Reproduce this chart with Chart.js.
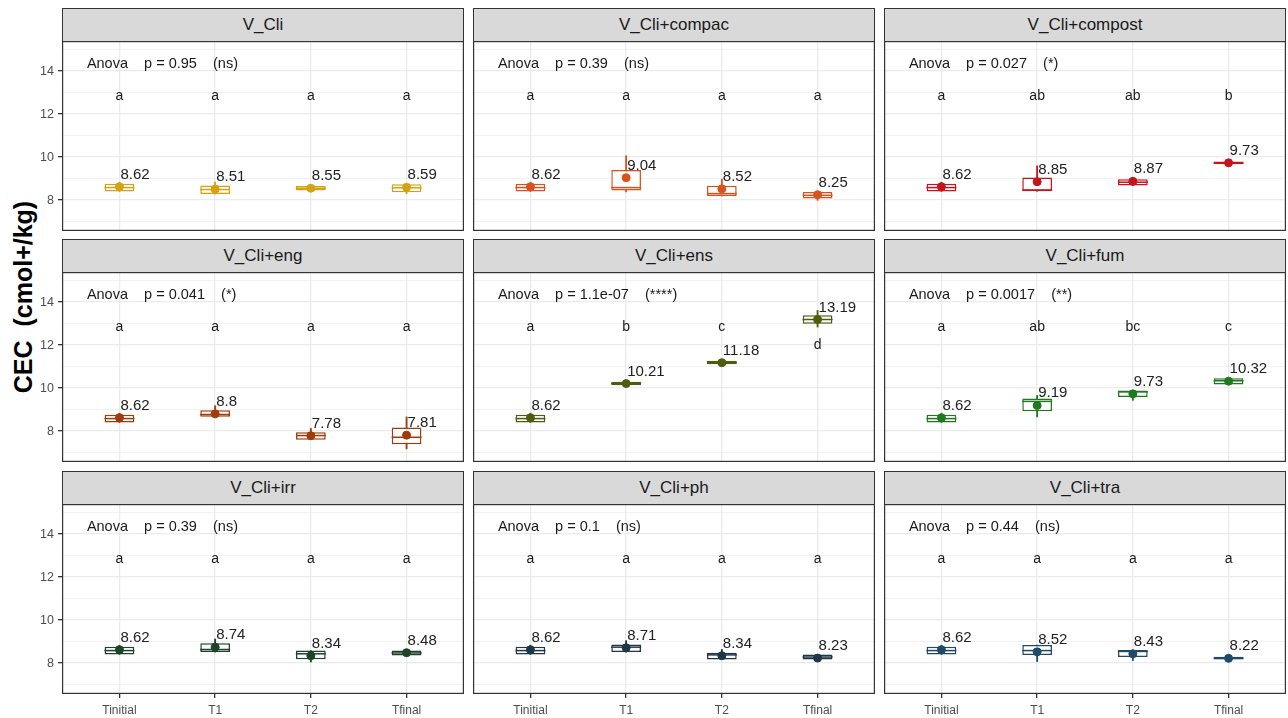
<!DOCTYPE html>
<html>
<head>
<meta charset="utf-8">
<title>CEC by treatment</title>
<script src="https://cdn.jsdelivr.net/npm/chart.js@4.4.1/dist/chart.umd.min.js"></script>
<style>
  body { margin: 0; background: #fff; font-family: "Liberation Sans", Arial, sans-serif; }
  #wrap { position: relative; width: 1288px; height: 718px; overflow: hidden; }
  .strip {
    position: absolute; box-sizing: border-box; background: #d9d9d9;
    border: 1px solid #333; color: #1a1a1a; font-size: 17px; text-align: center;
  }
  .cell { position: absolute; }
  #ytitle {
    position: absolute; left: 11px; top: 297px; transform-origin: 0 0;
    transform: rotate(-90deg) translate(-50%, 0);
    font-weight: bold; font-size: 25px; line-height: 25px; white-space: pre; color: #000;
  }
</style>
</head>
<body>
<div id="wrap">
  <div id="ytitle">CEC  (cmol+/kg)</div>
</div>
<script>
// sampling times and treatments (one facet each)
const groups = ['Tinitial', 'T1', 'T2', 'Tfinal'];
const treatments = ['V_Cli', 'V_Cli+compac', 'V_Cli+compost',
                    'V_Cli+eng', 'V_Cli+ens', 'V_Cli+fum',
                    'V_Cli+irr', 'V_Cli+ph', 'V_Cli+tra'];
const colors = ['#d4a214', '#d9521e', '#c3161c',
                '#a03c0c', '#4f5c0e', '#1f7a1f',
                '#1d4329', '#1e3747', '#1f4a69'];

// box statistics per treatment, one value per time
const whiskerLow = [
  [8.40, 8.28, 8.44, 8.30], [8.40, 8.38, 8.19, 7.99], [8.40, 8.41, 8.68, 9.67],
  [8.40, 8.66, 7.60, 7.17], [8.40, 10.13, 11.11, 12.84], [8.40, 8.66, 9.43, 10.17],
  [8.40, 8.51, 8.05, 8.35], [8.40, 8.51, 8.17, 8.12], [8.40, 8.07, 8.12, 8.16]
];
const boxQ1 = [
  [8.40, 8.28, 8.44, 8.36], [8.40, 8.45, 8.19, 8.07], [8.40, 8.41, 8.68, 9.67],
  [8.40, 8.66, 7.60, 7.39], [8.40, 10.13, 11.11, 12.99], [8.40, 8.92, 9.59, 10.17],
  [8.40, 8.51, 8.18, 8.35], [8.40, 8.51, 8.17, 8.17], [8.40, 8.38, 8.28, 8.16]
];
const boxMedian = [
  [8.58, 8.49, 8.55, 8.57], [8.58, 8.58, 8.30, 8.22], [8.58, 8.47, 8.83, 9.73],
  [8.58, 8.77, 7.79, 7.71], [8.58, 10.21, 11.18, 13.19], [8.58, 9.38, 9.82, 10.34],
  [8.58, 8.63, 8.43, 8.47], [8.58, 8.74, 8.38, 8.28], [8.58, 8.58, 8.54, 8.22]
];
const boxQ3 = [
  [8.76, 8.68, 8.65, 8.73], [8.76, 9.40, 8.66, 8.38], [8.76, 9.05, 8.97, 9.79],
  [8.76, 8.97, 7.94, 8.17], [8.76, 10.29, 11.27, 13.39], [8.76, 9.51, 9.89, 10.46],
  [8.76, 8.92, 8.58, 8.58], [8.76, 8.86, 8.48, 8.40], [8.76, 8.84, 8.61, 8.29]
];
const whiskerHigh = [
  [8.83, 8.84, 8.65, 8.73], [8.83, 10.06, 8.97, 8.38], [8.83, 9.59, 9.06, 9.79],
  [8.83, 9.18, 8.12, 8.66], [8.83, 10.29, 11.27, 13.61], [8.83, 9.66, 9.89, 10.46],
  [8.83, 9.12, 8.58, 8.58], [8.83, 9.04, 8.63, 8.40], [8.83, 8.84, 8.61, 8.29]
];
const means = [
  [8.62, 8.51, 8.55, 8.59], [8.62, 9.04, 8.52, 8.25], [8.62, 8.85, 8.87, 9.73],
  [8.62, 8.8, 7.78, 7.81], [8.62, 10.21, 11.18, 13.19], [8.62, 9.19, 9.73, 10.32],
  [8.62, 8.74, 8.34, 8.48], [8.62, 8.71, 8.34, 8.23], [8.62, 8.52, 8.43, 8.22]
];

// test results
const letters = [
  ['a', 'a', 'a', 'a'], ['a', 'a', 'a', 'a'], ['a', 'ab', 'ab', 'b'],
  ['a', 'a', 'a', 'a'], ['a', 'b', 'c', 'd'], ['a', 'ab', 'bc', 'c'],
  ['a', 'a', 'a', 'a'], ['a', 'a', 'a', 'a'], ['a', 'a', 'a', 'a']
];
const anovaP = ['0.95', '0.39', '0.027', '0.041', '1.1e-07', '0.0017', '0.39', '0.1', '0.44'];
const anovaSig = ['ns', 'ns', '*', '*', '****', '**', 'ns', 'ns', 'ns'];

const yTicks = [7, 8, 9, 10, 11, 12, 13, 14, 15];
const Y_MIN = 6.56, Y_MAX = 15.4;
const LETTER_Y = 12.65, ANOVA_Y = 14.15, ANOVA_X = 0.66;

// facet geometry
const colLeft = [62, 473, 884];
const panelW = 402;
const rowTop = [41, 272, 504];
const panelH = 190;
const stripH = 33;
const FONT = '"Liberation Sans", Arial, sans-serif';

const panelText = {
  id: 'panelText',
  afterDatasetsDraw(chart, args, opts) {
    const { ctx, chartArea, scales: { x, y } } = chart;
    const p = opts.panel;
    ctx.save();
    ctx.fillStyle = '#1a1a1a';
    ctx.textBaseline = 'alphabetic';

    ctx.font = '14.5px ' + FONT;
    ctx.textAlign = 'left';
    ctx.fillText('Anova    p = ' + anovaP[p] + '    (' + anovaSig[p] + ')',
      x.getPixelForValue(ANOVA_X), y.getPixelForValue(ANOVA_Y));

    // letters go below the box when the box reaches the letter row
    ctx.font = '14px ' + FONT;
    ctx.textAlign = 'center';
    letters[p].forEach((l, i) => {
      const ly = whiskerHigh[p][i] > LETTER_Y - 0.45 ? whiskerLow[p][i] - 1.04 : LETTER_Y;
      ctx.fillText(l, x.getPixelForValue(i + 1), y.getPixelForValue(ly));
    });

    ctx.font = '15px ' + FONT;
    ctx.fillStyle = '#222';
    ctx.textAlign = 'left';
    means[p].forEach((m, i) => {
      ctx.fillText(String(m), x.getPixelForValue(i + 1) + 1, y.getPixelForValue(m) - 8);
    });

    ctx.strokeStyle = '#333';
    ctx.lineWidth = 1.2;
    ctx.strokeRect(chartArea.left + 0.6, chartArea.top + 0.6,
      chartArea.width - 1.2, chartArea.height - 1.2);
    ctx.restore();
  }
};

const wrap = document.getElementById('wrap');

treatments.forEach((name, p) => {
  const row = Math.floor(p / 3), col = p % 3;
  const color = colors[p];

  const strip = document.createElement('div');
  strip.className = 'strip';
  strip.style.left = colLeft[col] + 'px';
  strip.style.top = (rowTop[row] - stripH) + 'px';
  strip.style.width = panelW + 'px';
  strip.style.height = (stripH + 1) + 'px';
  strip.style.lineHeight = (stripH - 1) + 'px';
  strip.textContent = name;
  wrap.appendChild(strip);

  const leftAxis = col === 0 ? colLeft[0] : 0;
  const bottomAxis = row === 2 ? 25 : 0;
  const cell = document.createElement('div');
  cell.className = 'cell';
  cell.style.left = (colLeft[col] - leftAxis) + 'px';
  cell.style.top = rowTop[row] + 'px';
  cell.style.width = (panelW + leftAxis) + 'px';
  cell.style.height = (panelH + bottomAxis) + 'px';
  const canvas = document.createElement('canvas');
  cell.appendChild(canvas);
  wrap.appendChild(cell);

  const pts = vals => vals.map((v, i) => ({ x: i + 1, y: v }));
  const spans = (lo, hi) => lo.map((v, i) => ({ x: i + 1, y: [v, hi[i]] }));

  new Chart(canvas, {
    type: 'bar',
    data: {
      datasets: [
        {
          label: 'whisker', data: spans(whiskerLow[p], whiskerHigh[p]),
          backgroundColor: color, borderWidth: 0, barThickness: 1.2,
          grouped: false, order: 4
        },
        {
          label: 'box', data: spans(boxQ1[p], boxQ3[p]),
          backgroundColor: '#ffffff', borderColor: color, borderWidth: 1.5,
          borderSkipped: false, grouped: false,
          categoryPercentage: 1, barPercentage: 0.31, order: 3
        },
        {
          type: 'line', label: 'median', data: pts(boxMedian[p]), showLine: false,
          pointStyle: 'line', pointRadius: 15, pointBorderWidth: 1.5,
          pointBorderColor: color, order: 2
        },
        {
          type: 'line', label: 'mean', data: pts(means[p]), showLine: false,
          pointStyle: 'circle', pointRadius: 4, pointBorderWidth: 1,
          pointBackgroundColor: color, pointBorderColor: color, order: 1
        }
      ]
    },
    options: {
      responsive: true,
      maintainAspectRatio: false,
      animation: false,
      events: [],
      layout: { padding: 0, autoPadding: false },
      plugins: {
        legend: { display: false },
        tooltip: { enabled: false },
        panelText: { panel: p }
      },
      scales: {
        x: {
          type: 'linear', min: 0.4, max: 4.6, offset: false,
          afterBuildTicks: s => { s.ticks = groups.map((g, i) => ({ value: i + 1 })); },
          afterFit: s => {
            s.height = bottomAxis;
            s.paddingLeft = 0; s.paddingRight = 0;
          },
          grid: {
            offset: false, color: '#ebebeb', lineWidth: 1.3,
            drawTicks: row === 2, tickLength: 4, tickColor: '#333'
          },
          border: { display: false },
          ticks: {
            display: row === 2, autoSkip: false, maxRotation: 0, padding: 5,
            color: '#4d4d4d', font: { family: FONT, size: 12 },
            callback: v => groups[v - 1]
          }
        },
        y: {
          min: Y_MIN, max: Y_MAX,
          afterBuildTicks: s => { s.ticks = yTicks.map(v => ({ value: v })); },
          afterFit: s => {
            s.width = leftAxis;
            s.paddingTop = 0; s.paddingBottom = 0;
          },
          grid: {
            color: '#ebebeb',
            lineWidth: ctx => (ctx.tick && ctx.tick.value % 2 === 0 ? 1.3 : 0.7),
            drawTicks: col === 0, tickLength: 4,
            tickColor: ctx => (ctx.tick && ctx.tick.value % 2 === 0 ? '#333' : 'rgba(0,0,0,0)')
          },
          border: { display: false },
          ticks: {
            display: col === 0, padding: 4,
            color: '#4d4d4d', font: { family: FONT, size: 12.5 },
            callback: v => (v % 2 === 0 ? v : '')
          }
        }
      }
    },
    plugins: [panelText]
  });
});
</script>
</body>
</html>
